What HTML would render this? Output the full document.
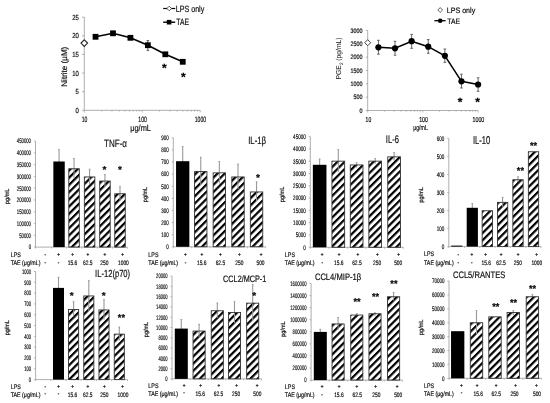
<!DOCTYPE html>
<html><head><meta charset="utf-8"><style>
html,body{margin:0;padding:0;background:#fff;width:550px;height:403px;overflow:hidden}
svg{display:block;filter:grayscale(1) blur(0.3px)}
text{font-family:"Liberation Sans", sans-serif;text-rendering:geometricPrecision}
</style></head><body>
<svg width="550" height="403" viewBox="0 0 550 403">
<defs>
<pattern id="hatch" patternUnits="userSpaceOnUse" width="5.1" height="5.1" patternTransform="rotate(45)">
<rect x="0" y="0" width="2.2" height="5.1" fill="#000"/>
</pattern>
</defs>
<rect width="550" height="403" fill="#fff"/>
<line x1="84.30" y1="17.20" x2="84.30" y2="110.30" stroke="#9a9a9a" stroke-width="0.8"/>
<line x1="82.10" y1="110.30" x2="84.30" y2="110.30" stroke="#9a9a9a" stroke-width="0.8"/>
<text x="78.80" y="112.90" font-size="7.4" text-anchor="end" fill="#111" textLength="3.30" lengthAdjust="spacingAndGlyphs" font-weight="normal"  stroke="#111" stroke-width="0.2">0</text>
<line x1="82.10" y1="91.68" x2="84.30" y2="91.68" stroke="#9a9a9a" stroke-width="0.8"/>
<text x="78.80" y="94.28" font-size="7.4" text-anchor="end" fill="#111" textLength="3.30" lengthAdjust="spacingAndGlyphs" font-weight="normal"  stroke="#111" stroke-width="0.2">5</text>
<line x1="82.10" y1="73.06" x2="84.30" y2="73.06" stroke="#9a9a9a" stroke-width="0.8"/>
<text x="78.80" y="75.66" font-size="7.4" text-anchor="end" fill="#111" textLength="6.60" lengthAdjust="spacingAndGlyphs" font-weight="normal"  stroke="#111" stroke-width="0.2">10</text>
<line x1="82.10" y1="54.44" x2="84.30" y2="54.44" stroke="#9a9a9a" stroke-width="0.8"/>
<text x="78.80" y="57.04" font-size="7.4" text-anchor="end" fill="#111" textLength="6.60" lengthAdjust="spacingAndGlyphs" font-weight="normal"  stroke="#111" stroke-width="0.2">15</text>
<line x1="82.10" y1="35.82" x2="84.30" y2="35.82" stroke="#9a9a9a" stroke-width="0.8"/>
<text x="78.80" y="38.42" font-size="7.4" text-anchor="end" fill="#111" textLength="6.60" lengthAdjust="spacingAndGlyphs" font-weight="normal"  stroke="#111" stroke-width="0.2">20</text>
<line x1="82.10" y1="17.20" x2="84.30" y2="17.20" stroke="#9a9a9a" stroke-width="0.8"/>
<text x="78.80" y="19.80" font-size="7.4" text-anchor="end" fill="#111" textLength="6.60" lengthAdjust="spacingAndGlyphs" font-weight="normal"  stroke="#111" stroke-width="0.2">25</text>
<line x1="84.30" y1="110.30" x2="200.20" y2="110.30" stroke="#9a9a9a" stroke-width="0.8"/>
<line x1="84.30" y1="110.30" x2="84.30" y2="112.50" stroke="#9a9a9a" stroke-width="0.7"/>
<line x1="101.74" y1="110.30" x2="101.74" y2="111.60" stroke="#9a9a9a" stroke-width="0.7"/>
<line x1="111.95" y1="110.30" x2="111.95" y2="111.60" stroke="#9a9a9a" stroke-width="0.7"/>
<line x1="119.19" y1="110.30" x2="119.19" y2="111.60" stroke="#9a9a9a" stroke-width="0.7"/>
<line x1="124.81" y1="110.30" x2="124.81" y2="111.60" stroke="#9a9a9a" stroke-width="0.7"/>
<line x1="129.39" y1="110.30" x2="129.39" y2="111.60" stroke="#9a9a9a" stroke-width="0.7"/>
<line x1="133.27" y1="110.30" x2="133.27" y2="111.60" stroke="#9a9a9a" stroke-width="0.7"/>
<line x1="136.63" y1="110.30" x2="136.63" y2="111.60" stroke="#9a9a9a" stroke-width="0.7"/>
<line x1="139.60" y1="110.30" x2="139.60" y2="111.60" stroke="#9a9a9a" stroke-width="0.7"/>
<line x1="142.25" y1="110.30" x2="142.25" y2="112.50" stroke="#9a9a9a" stroke-width="0.7"/>
<line x1="159.69" y1="110.30" x2="159.69" y2="111.60" stroke="#9a9a9a" stroke-width="0.7"/>
<line x1="169.90" y1="110.30" x2="169.90" y2="111.60" stroke="#9a9a9a" stroke-width="0.7"/>
<line x1="177.14" y1="110.30" x2="177.14" y2="111.60" stroke="#9a9a9a" stroke-width="0.7"/>
<line x1="182.76" y1="110.30" x2="182.76" y2="111.60" stroke="#9a9a9a" stroke-width="0.7"/>
<line x1="187.34" y1="110.30" x2="187.34" y2="111.60" stroke="#9a9a9a" stroke-width="0.7"/>
<line x1="191.22" y1="110.30" x2="191.22" y2="111.60" stroke="#9a9a9a" stroke-width="0.7"/>
<line x1="194.58" y1="110.30" x2="194.58" y2="111.60" stroke="#9a9a9a" stroke-width="0.7"/>
<line x1="197.55" y1="110.30" x2="197.55" y2="111.60" stroke="#9a9a9a" stroke-width="0.7"/>
<line x1="200.20" y1="110.30" x2="200.20" y2="112.50" stroke="#9a9a9a" stroke-width="0.7"/>
<text x="84.50" y="121.50" font-size="7.8" text-anchor="middle" fill="#111" textLength="5.60" lengthAdjust="spacingAndGlyphs" font-weight="normal"  stroke="#111" stroke-width="0.2">10</text>
<text x="142.60" y="121.50" font-size="7.8" text-anchor="middle" fill="#111" textLength="8.60" lengthAdjust="spacingAndGlyphs" font-weight="normal"  stroke="#111" stroke-width="0.2">100</text>
<text x="200.40" y="121.50" font-size="7.8" text-anchor="middle" fill="#111" textLength="11.20" lengthAdjust="spacingAndGlyphs" font-weight="normal"  stroke="#111" stroke-width="0.2">1000</text>
<text x="140.60" y="130.80" font-size="9" text-anchor="middle" fill="#111" textLength="20.70" lengthAdjust="spacingAndGlyphs" font-weight="normal"  stroke="#111" stroke-width="0.2">μg/mL</text>
<text x="66.60" y="66.70" font-size="8.2" text-anchor="middle" fill="#111" textLength="40.00" lengthAdjust="spacingAndGlyphs" transform="rotate(-90 66.60 66.70)" font-weight="normal"  stroke="#111" stroke-width="0.2">Nitrite (μM)</text>
<polyline points="95.53,36.80 112.98,33.30 130.42,37.80 147.87,45.20 165.31,54.30 182.76,61.80" fill="none" stroke="#000" stroke-width="1.6"/>
<line x1="147.87" y1="40.60" x2="147.87" y2="50.40" stroke="#444" stroke-width="0.9"/>
<line x1="146.67" y1="40.60" x2="149.07" y2="40.60" stroke="#444" stroke-width="0.9"/>
<line x1="146.67" y1="50.40" x2="149.07" y2="50.40" stroke="#444" stroke-width="0.9"/>
<rect x="92.63" y="33.90" width="5.80" height="5.80" fill="#000"/>
<rect x="110.08" y="30.40" width="5.80" height="5.80" fill="#000"/>
<rect x="127.52" y="34.90" width="5.80" height="5.80" fill="#000"/>
<rect x="144.97" y="42.30" width="5.80" height="5.80" fill="#000"/>
<rect x="162.41" y="51.40" width="5.80" height="5.80" fill="#000"/>
<rect x="179.86" y="58.90" width="5.80" height="5.80" fill="#000"/>
<polygon points="84.30,39.80 87.60,43.1 84.30,46.40 81.00,43.1" fill="#fff" stroke="#222" stroke-width="1.1"/>
<text x="164.30" y="72.32" font-size="12" text-anchor="middle" fill="#000" font-weight="bold"  stroke="#000" stroke-width="0.2">*</text>
<text x="183.40" y="81.32" font-size="12" text-anchor="middle" fill="#000" font-weight="bold"  stroke="#000" stroke-width="0.2">*</text>
<line x1="163.20" y1="8.50" x2="175.20" y2="8.50" stroke="#000" stroke-width="1.2"/>
<polygon points="169.2,6.2 171.5,8.5 169.2,10.8 166.89999999999998,8.5" fill="#fff" stroke="#333" stroke-width="0.8"/>
<text x="175.70" y="11.50" font-size="9.0" text-anchor="start" fill="#111" textLength="28.60" lengthAdjust="spacingAndGlyphs" font-weight="normal"  stroke="#111" stroke-width="0.2">LPS only</text>
<line x1="163.20" y1="22.20" x2="175.20" y2="22.20" stroke="#000" stroke-width="1.4"/>
<rect x="166.80" y="19.90" width="4.60" height="4.60" fill="#000"/>
<text x="176.30" y="24.50" font-size="9.0" text-anchor="start" fill="#111" textLength="12.70" lengthAdjust="spacingAndGlyphs" font-weight="normal"  stroke="#111" stroke-width="0.2">TAE</text>
<line x1="367.70" y1="30.50" x2="367.70" y2="110.50" stroke="#9a9a9a" stroke-width="0.8"/>
<line x1="365.90" y1="110.50" x2="367.70" y2="110.50" stroke="#9a9a9a" stroke-width="0.8"/>
<text x="362.40" y="112.70" font-size="6.4" text-anchor="end" fill="#111" textLength="3.00" lengthAdjust="spacingAndGlyphs" font-weight="normal"  stroke="#111" stroke-width="0.2">0</text>
<line x1="365.90" y1="97.17" x2="367.70" y2="97.17" stroke="#9a9a9a" stroke-width="0.8"/>
<text x="362.40" y="99.37" font-size="6.4" text-anchor="end" fill="#111" textLength="9.00" lengthAdjust="spacingAndGlyphs" font-weight="normal"  stroke="#111" stroke-width="0.2">500</text>
<line x1="365.90" y1="83.83" x2="367.70" y2="83.83" stroke="#9a9a9a" stroke-width="0.8"/>
<text x="362.40" y="86.03" font-size="6.4" text-anchor="end" fill="#111" textLength="12.00" lengthAdjust="spacingAndGlyphs" font-weight="normal"  stroke="#111" stroke-width="0.2">1000</text>
<line x1="365.90" y1="70.50" x2="367.70" y2="70.50" stroke="#9a9a9a" stroke-width="0.8"/>
<text x="362.40" y="72.70" font-size="6.4" text-anchor="end" fill="#111" textLength="12.00" lengthAdjust="spacingAndGlyphs" font-weight="normal"  stroke="#111" stroke-width="0.2">1500</text>
<line x1="365.90" y1="57.17" x2="367.70" y2="57.17" stroke="#9a9a9a" stroke-width="0.8"/>
<text x="362.40" y="59.37" font-size="6.4" text-anchor="end" fill="#111" textLength="12.00" lengthAdjust="spacingAndGlyphs" font-weight="normal"  stroke="#111" stroke-width="0.2">2000</text>
<line x1="365.90" y1="43.83" x2="367.70" y2="43.83" stroke="#9a9a9a" stroke-width="0.8"/>
<text x="362.40" y="46.03" font-size="6.4" text-anchor="end" fill="#111" textLength="12.00" lengthAdjust="spacingAndGlyphs" font-weight="normal"  stroke="#111" stroke-width="0.2">2500</text>
<line x1="365.90" y1="30.50" x2="367.70" y2="30.50" stroke="#9a9a9a" stroke-width="0.8"/>
<text x="362.40" y="32.70" font-size="6.4" text-anchor="end" fill="#111" textLength="12.00" lengthAdjust="spacingAndGlyphs" font-weight="normal"  stroke="#111" stroke-width="0.2">3000</text>
<line x1="367.70" y1="110.50" x2="478.10" y2="110.50" stroke="#9a9a9a" stroke-width="0.8"/>
<line x1="367.70" y1="110.50" x2="367.70" y2="112.50" stroke="#9a9a9a" stroke-width="0.7"/>
<line x1="384.32" y1="110.50" x2="384.32" y2="111.70" stroke="#9a9a9a" stroke-width="0.7"/>
<line x1="394.04" y1="110.50" x2="394.04" y2="111.70" stroke="#9a9a9a" stroke-width="0.7"/>
<line x1="400.93" y1="110.50" x2="400.93" y2="111.70" stroke="#9a9a9a" stroke-width="0.7"/>
<line x1="406.28" y1="110.50" x2="406.28" y2="111.70" stroke="#9a9a9a" stroke-width="0.7"/>
<line x1="410.65" y1="110.50" x2="410.65" y2="111.70" stroke="#9a9a9a" stroke-width="0.7"/>
<line x1="414.35" y1="110.50" x2="414.35" y2="111.70" stroke="#9a9a9a" stroke-width="0.7"/>
<line x1="417.55" y1="110.50" x2="417.55" y2="111.70" stroke="#9a9a9a" stroke-width="0.7"/>
<line x1="420.37" y1="110.50" x2="420.37" y2="111.70" stroke="#9a9a9a" stroke-width="0.7"/>
<line x1="422.90" y1="110.50" x2="422.90" y2="112.50" stroke="#9a9a9a" stroke-width="0.7"/>
<line x1="439.52" y1="110.50" x2="439.52" y2="111.70" stroke="#9a9a9a" stroke-width="0.7"/>
<line x1="449.24" y1="110.50" x2="449.24" y2="111.70" stroke="#9a9a9a" stroke-width="0.7"/>
<line x1="456.13" y1="110.50" x2="456.13" y2="111.70" stroke="#9a9a9a" stroke-width="0.7"/>
<line x1="461.48" y1="110.50" x2="461.48" y2="111.70" stroke="#9a9a9a" stroke-width="0.7"/>
<line x1="465.85" y1="110.50" x2="465.85" y2="111.70" stroke="#9a9a9a" stroke-width="0.7"/>
<line x1="469.55" y1="110.50" x2="469.55" y2="111.70" stroke="#9a9a9a" stroke-width="0.7"/>
<line x1="472.75" y1="110.50" x2="472.75" y2="111.70" stroke="#9a9a9a" stroke-width="0.7"/>
<line x1="475.57" y1="110.50" x2="475.57" y2="111.70" stroke="#9a9a9a" stroke-width="0.7"/>
<line x1="478.10" y1="110.50" x2="478.10" y2="112.50" stroke="#9a9a9a" stroke-width="0.7"/>
<text x="368.40" y="121.60" font-size="7.2" text-anchor="middle" fill="#111" textLength="5.60" lengthAdjust="spacingAndGlyphs" font-weight="normal"  stroke="#111" stroke-width="0.2">10</text>
<text x="423.60" y="121.60" font-size="7.2" text-anchor="middle" fill="#111" textLength="8.90" lengthAdjust="spacingAndGlyphs" font-weight="normal"  stroke="#111" stroke-width="0.2">100</text>
<text x="478.40" y="121.60" font-size="7.2" text-anchor="middle" fill="#111" textLength="11.80" lengthAdjust="spacingAndGlyphs" font-weight="normal"  stroke="#111" stroke-width="0.2">1000</text>
<text x="420.50" y="130.00" font-size="7.2" text-anchor="middle" fill="#111" textLength="14.60" lengthAdjust="spacingAndGlyphs" font-weight="normal"  stroke="#111" stroke-width="0.2">μg/mL</text>
<text x="341.5" y="58.4" font-size="7.2" text-anchor="middle" fill="#111" transform="rotate(-90 341.5 58.4)" textLength="42" lengthAdjust="spacingAndGlyphs">PGE<tspan font-size="4.8" dy="1.5">2</tspan><tspan dy="-1.5"> (pg/mL)</tspan></text>
<line x1="378.40" y1="40.30" x2="378.40" y2="54.20" stroke="#555" stroke-width="0.9"/>
<line x1="377.10" y1="40.30" x2="379.70" y2="40.30" stroke="#555" stroke-width="0.9"/>
<line x1="377.10" y1="54.20" x2="379.70" y2="54.20" stroke="#555" stroke-width="0.9"/>
<line x1="395.02" y1="41.30" x2="395.02" y2="55.20" stroke="#555" stroke-width="0.9"/>
<line x1="393.72" y1="41.30" x2="396.32" y2="41.30" stroke="#555" stroke-width="0.9"/>
<line x1="393.72" y1="55.20" x2="396.32" y2="55.20" stroke="#555" stroke-width="0.9"/>
<line x1="411.63" y1="34.40" x2="411.63" y2="48.30" stroke="#555" stroke-width="0.9"/>
<line x1="410.33" y1="34.40" x2="412.93" y2="34.40" stroke="#555" stroke-width="0.9"/>
<line x1="410.33" y1="48.30" x2="412.93" y2="48.30" stroke="#555" stroke-width="0.9"/>
<line x1="428.25" y1="39.60" x2="428.25" y2="53.30" stroke="#555" stroke-width="0.9"/>
<line x1="426.95" y1="39.60" x2="429.55" y2="39.60" stroke="#555" stroke-width="0.9"/>
<line x1="426.95" y1="53.30" x2="429.55" y2="53.30" stroke="#555" stroke-width="0.9"/>
<line x1="444.87" y1="49.00" x2="444.87" y2="62.40" stroke="#555" stroke-width="0.9"/>
<line x1="443.57" y1="49.00" x2="446.17" y2="49.00" stroke="#555" stroke-width="0.9"/>
<line x1="443.57" y1="62.40" x2="446.17" y2="62.40" stroke="#555" stroke-width="0.9"/>
<line x1="461.48" y1="74.20" x2="461.48" y2="88.00" stroke="#555" stroke-width="0.9"/>
<line x1="460.18" y1="74.20" x2="462.78" y2="74.20" stroke="#555" stroke-width="0.9"/>
<line x1="460.18" y1="88.00" x2="462.78" y2="88.00" stroke="#555" stroke-width="0.9"/>
<line x1="478.10" y1="77.80" x2="478.10" y2="91.30" stroke="#555" stroke-width="0.9"/>
<line x1="476.80" y1="77.80" x2="479.40" y2="77.80" stroke="#555" stroke-width="0.9"/>
<line x1="476.80" y1="91.30" x2="479.40" y2="91.30" stroke="#555" stroke-width="0.9"/>
<polyline points="378.40,47.30 395.02,48.30 411.63,41.20 428.25,46.70 444.87,55.80 461.48,81.30 478.10,84.50" fill="none" stroke="#000" stroke-width="1.5"/>
<circle cx="378.40" cy="47.30" r="3.1" fill="#000"/>
<circle cx="395.02" cy="48.30" r="3.1" fill="#000"/>
<circle cx="411.63" cy="41.20" r="3.1" fill="#000"/>
<circle cx="428.25" cy="46.70" r="3.1" fill="#000"/>
<circle cx="444.87" cy="55.80" r="3.1" fill="#000"/>
<circle cx="461.48" cy="81.30" r="3.1" fill="#000"/>
<circle cx="478.10" cy="84.50" r="3.1" fill="#000"/>
<polygon points="367.70,39.70 370.70,42.7 367.70,45.70 364.70,42.7" fill="#fff" stroke="#333" stroke-width="0.9"/>
<text x="460.00" y="106.12" font-size="12" text-anchor="middle" fill="#000" font-weight="bold"  stroke="#000" stroke-width="0.2">*</text>
<text x="477.50" y="106.12" font-size="12" text-anchor="middle" fill="#000" font-weight="bold"  stroke="#000" stroke-width="0.2">*</text>
<polygon points="440.2,7.6 442.59999999999997,10 440.2,12.4 437.8,10" fill="#fff" stroke="#333" stroke-width="0.8"/>
<text x="446.80" y="12.80" font-size="7.8" text-anchor="start" fill="#111" textLength="28.40" lengthAdjust="spacingAndGlyphs" font-weight="normal"  stroke="#111" stroke-width="0.2">LPS only</text>
<line x1="434.40" y1="20.70" x2="445.60" y2="20.70" stroke="#000" stroke-width="1.3"/>
<circle cx="440.2" cy="20.7" r="2.3" fill="#000"/>
<text x="447.30" y="23.50" font-size="7.8" text-anchor="start" fill="#111" textLength="12.70" lengthAdjust="spacingAndGlyphs" font-weight="normal"  stroke="#111" stroke-width="0.2">TAE</text>
<line x1="35.50" y1="141.10" x2="35.50" y2="247.10" stroke="#9a9a9a" stroke-width="0.8"/>
<line x1="35.50" y1="247.10" x2="127.30" y2="247.10" stroke="#9a9a9a" stroke-width="0.8"/>
<line x1="33.90" y1="247.10" x2="35.50" y2="247.10" stroke="#9a9a9a" stroke-width="0.7"/>
<text x="31.00" y="249.40" font-size="6.6" text-anchor="end" fill="#111" textLength="2.37" lengthAdjust="spacingAndGlyphs" font-weight="normal"  stroke="#111" stroke-width="0.2">0</text>
<line x1="33.90" y1="235.32" x2="35.50" y2="235.32" stroke="#9a9a9a" stroke-width="0.7"/>
<text x="31.00" y="237.62" font-size="6.6" text-anchor="end" fill="#111" textLength="11.85" lengthAdjust="spacingAndGlyphs" font-weight="normal"  stroke="#111" stroke-width="0.2">50000</text>
<line x1="33.90" y1="223.54" x2="35.50" y2="223.54" stroke="#9a9a9a" stroke-width="0.7"/>
<text x="31.00" y="225.84" font-size="6.6" text-anchor="end" fill="#111" textLength="14.22" lengthAdjust="spacingAndGlyphs" font-weight="normal"  stroke="#111" stroke-width="0.2">100000</text>
<line x1="33.90" y1="211.77" x2="35.50" y2="211.77" stroke="#9a9a9a" stroke-width="0.7"/>
<text x="31.00" y="214.07" font-size="6.6" text-anchor="end" fill="#111" textLength="14.22" lengthAdjust="spacingAndGlyphs" font-weight="normal"  stroke="#111" stroke-width="0.2">150000</text>
<line x1="33.90" y1="199.99" x2="35.50" y2="199.99" stroke="#9a9a9a" stroke-width="0.7"/>
<text x="31.00" y="202.29" font-size="6.6" text-anchor="end" fill="#111" textLength="14.22" lengthAdjust="spacingAndGlyphs" font-weight="normal"  stroke="#111" stroke-width="0.2">200000</text>
<line x1="33.90" y1="188.21" x2="35.50" y2="188.21" stroke="#9a9a9a" stroke-width="0.7"/>
<text x="31.00" y="190.51" font-size="6.6" text-anchor="end" fill="#111" textLength="14.22" lengthAdjust="spacingAndGlyphs" font-weight="normal"  stroke="#111" stroke-width="0.2">250000</text>
<line x1="33.90" y1="176.43" x2="35.50" y2="176.43" stroke="#9a9a9a" stroke-width="0.7"/>
<text x="31.00" y="178.73" font-size="6.6" text-anchor="end" fill="#111" textLength="14.22" lengthAdjust="spacingAndGlyphs" font-weight="normal"  stroke="#111" stroke-width="0.2">300000</text>
<line x1="33.90" y1="164.66" x2="35.50" y2="164.66" stroke="#9a9a9a" stroke-width="0.7"/>
<text x="31.00" y="166.96" font-size="6.6" text-anchor="end" fill="#111" textLength="14.22" lengthAdjust="spacingAndGlyphs" font-weight="normal"  stroke="#111" stroke-width="0.2">350000</text>
<line x1="33.90" y1="152.88" x2="35.50" y2="152.88" stroke="#9a9a9a" stroke-width="0.7"/>
<text x="31.00" y="155.18" font-size="6.6" text-anchor="end" fill="#111" textLength="14.22" lengthAdjust="spacingAndGlyphs" font-weight="normal"  stroke="#111" stroke-width="0.2">400000</text>
<line x1="33.90" y1="141.10" x2="35.50" y2="141.10" stroke="#9a9a9a" stroke-width="0.7"/>
<text x="31.00" y="143.40" font-size="6.6" text-anchor="end" fill="#111" textLength="14.22" lengthAdjust="spacingAndGlyphs" font-weight="normal"  stroke="#111" stroke-width="0.2">450000</text>
<line x1="35.50" y1="247.10" x2="35.50" y2="248.60" stroke="#9a9a9a" stroke-width="0.7"/>
<line x1="51.52" y1="247.10" x2="51.52" y2="248.60" stroke="#9a9a9a" stroke-width="0.7"/>
<line x1="66.55" y1="247.10" x2="66.55" y2="248.60" stroke="#9a9a9a" stroke-width="0.7"/>
<line x1="81.82" y1="247.10" x2="81.82" y2="248.60" stroke="#9a9a9a" stroke-width="0.7"/>
<line x1="97.28" y1="247.10" x2="97.28" y2="248.60" stroke="#9a9a9a" stroke-width="0.7"/>
<line x1="112.47" y1="247.10" x2="112.47" y2="248.60" stroke="#9a9a9a" stroke-width="0.7"/>
<line x1="127.30" y1="247.10" x2="127.30" y2="248.60" stroke="#9a9a9a" stroke-width="0.7"/>
<line x1="59.05" y1="149.30" x2="59.05" y2="164.50" stroke="#999" stroke-width="1.1"/>
<line x1="58.15" y1="149.60" x2="59.95" y2="149.60" stroke="#999" stroke-width="0.8"/>
<rect x="53.35" y="161.50" width="11.40" height="85.60" fill="#000"/>
<line x1="74.05" y1="158.20" x2="74.05" y2="171.30" stroke="#999" stroke-width="1.1"/>
<line x1="73.15" y1="158.50" x2="74.95" y2="158.50" stroke="#999" stroke-width="0.8"/>
<rect x="68.80" y="168.75" width="10.50" height="78.35" fill="url(#hatch)" stroke="#333" stroke-width="0.9"/>
<line x1="74.05" y1="169.30" x2="74.05" y2="178.40" stroke="#999" stroke-width="1.0"/>
<line x1="89.60" y1="168.90" x2="89.60" y2="179.50" stroke="#999" stroke-width="1.1"/>
<line x1="88.70" y1="169.20" x2="90.50" y2="169.20" stroke="#999" stroke-width="0.8"/>
<rect x="84.35" y="176.95" width="10.50" height="70.15" fill="url(#hatch)" stroke="#333" stroke-width="0.9"/>
<line x1="89.60" y1="177.50" x2="89.60" y2="184.10" stroke="#999" stroke-width="1.0"/>
<line x1="104.95" y1="174.20" x2="104.95" y2="183.60" stroke="#999" stroke-width="1.1"/>
<line x1="104.05" y1="174.50" x2="105.85" y2="174.50" stroke="#999" stroke-width="0.8"/>
<rect x="99.70" y="181.05" width="10.50" height="66.05" fill="url(#hatch)" stroke="#333" stroke-width="0.9"/>
<line x1="104.95" y1="181.60" x2="104.95" y2="187.00" stroke="#999" stroke-width="1.0"/>
<line x1="120.00" y1="186.20" x2="120.00" y2="196.30" stroke="#999" stroke-width="1.1"/>
<line x1="119.10" y1="186.50" x2="120.90" y2="186.50" stroke="#999" stroke-width="0.8"/>
<rect x="114.75" y="193.75" width="10.50" height="53.35" fill="url(#hatch)" stroke="#333" stroke-width="0.9"/>
<line x1="120.00" y1="194.30" x2="120.00" y2="200.40" stroke="#999" stroke-width="1.0"/>
<text x="104.50" y="172.70" font-size="10" text-anchor="middle" fill="#000" font-weight="bold"  stroke="#000" stroke-width="0.2">*</text>
<text x="120.00" y="172.70" font-size="10" text-anchor="middle" fill="#000" font-weight="bold"  stroke="#000" stroke-width="0.2">*</text>
<text x="104.10" y="146.80" font-size="10.5" text-anchor="start" fill="#111" textLength="22.90" lengthAdjust="spacingAndGlyphs" font-weight="normal"  stroke="#111" stroke-width="0.2">TNF-α</text>
<text x="8.90" y="196.30" font-size="6.0" text-anchor="middle" fill="#111" textLength="15.30" lengthAdjust="spacingAndGlyphs" transform="rotate(-90 8.90 196.30)" font-weight="normal"  stroke="#111" stroke-width="0.2">pg/mL</text>
<text x="10.70" y="256.60" font-size="6.6" text-anchor="start" fill="#111" textLength="10.20" lengthAdjust="spacingAndGlyphs" font-weight="normal"  stroke="#111" stroke-width="0.2">LPS</text>
<text x="10.70" y="264.80" font-size="6.6" text-anchor="start" fill="#111" textLength="29.80" lengthAdjust="spacingAndGlyphs" font-weight="normal"  stroke="#111" stroke-width="0.2">TAE (μg/mL)</text>
<text x="45.30" y="256.00" font-size="4.6" text-anchor="middle" fill="#111" font-weight="bold"  stroke="#111" stroke-width="0.2">-</text>
<text x="58.50" y="256.00" font-size="4.6" text-anchor="middle" fill="#111" font-weight="bold"  stroke="#111" stroke-width="0.2">+</text>
<text x="72.50" y="256.00" font-size="4.6" text-anchor="middle" fill="#111" font-weight="bold"  stroke="#111" stroke-width="0.2">+</text>
<text x="87.80" y="256.00" font-size="4.6" text-anchor="middle" fill="#111" font-weight="bold"  stroke="#111" stroke-width="0.2">+</text>
<text x="104.80" y="256.00" font-size="4.6" text-anchor="middle" fill="#111" font-weight="bold"  stroke="#111" stroke-width="0.2">+</text>
<text x="122.60" y="256.00" font-size="4.6" text-anchor="middle" fill="#111" font-weight="bold"  stroke="#111" stroke-width="0.2">+</text>
<text x="45.30" y="263.60" font-size="4.6" text-anchor="middle" fill="#111" font-weight="bold"  stroke="#111" stroke-width="0.2">-</text>
<text x="58.50" y="263.60" font-size="4.6" text-anchor="middle" fill="#111" font-weight="bold"  stroke="#111" stroke-width="0.2">-</text>
<text x="72.50" y="264.80" font-size="6.4" text-anchor="middle" fill="#111" textLength="9.50" lengthAdjust="spacingAndGlyphs" font-weight="normal"  stroke="#111" stroke-width="0.2">15.6</text>
<text x="87.80" y="264.80" font-size="6.4" text-anchor="middle" fill="#111" textLength="9.50" lengthAdjust="spacingAndGlyphs" font-weight="normal"  stroke="#111" stroke-width="0.2">62.5</text>
<text x="104.30" y="264.80" font-size="6.4" text-anchor="middle" fill="#111" textLength="8.10" lengthAdjust="spacingAndGlyphs" font-weight="normal"  stroke="#111" stroke-width="0.2">250</text>
<text x="123.40" y="264.80" font-size="6.4" text-anchor="middle" fill="#111" textLength="10.80" lengthAdjust="spacingAndGlyphs" font-weight="normal"  stroke="#111" stroke-width="0.2">1000</text>
<line x1="173.30" y1="137.80" x2="173.30" y2="246.80" stroke="#9a9a9a" stroke-width="0.8"/>
<line x1="173.30" y1="246.80" x2="265.60" y2="246.80" stroke="#9a9a9a" stroke-width="0.8"/>
<line x1="171.70" y1="246.80" x2="173.30" y2="246.80" stroke="#9a9a9a" stroke-width="0.7"/>
<text x="168.80" y="249.10" font-size="6.6" text-anchor="end" fill="#111" textLength="2.50" lengthAdjust="spacingAndGlyphs" font-weight="normal"  stroke="#111" stroke-width="0.2">0</text>
<line x1="171.70" y1="234.69" x2="173.30" y2="234.69" stroke="#9a9a9a" stroke-width="0.7"/>
<text x="168.80" y="236.99" font-size="6.6" text-anchor="end" fill="#111" textLength="7.50" lengthAdjust="spacingAndGlyphs" font-weight="normal"  stroke="#111" stroke-width="0.2">100</text>
<line x1="171.70" y1="222.58" x2="173.30" y2="222.58" stroke="#9a9a9a" stroke-width="0.7"/>
<text x="168.80" y="224.88" font-size="6.6" text-anchor="end" fill="#111" textLength="7.50" lengthAdjust="spacingAndGlyphs" font-weight="normal"  stroke="#111" stroke-width="0.2">200</text>
<line x1="171.70" y1="210.47" x2="173.30" y2="210.47" stroke="#9a9a9a" stroke-width="0.7"/>
<text x="168.80" y="212.77" font-size="6.6" text-anchor="end" fill="#111" textLength="7.50" lengthAdjust="spacingAndGlyphs" font-weight="normal"  stroke="#111" stroke-width="0.2">300</text>
<line x1="171.70" y1="198.36" x2="173.30" y2="198.36" stroke="#9a9a9a" stroke-width="0.7"/>
<text x="168.80" y="200.66" font-size="6.6" text-anchor="end" fill="#111" textLength="7.50" lengthAdjust="spacingAndGlyphs" font-weight="normal"  stroke="#111" stroke-width="0.2">400</text>
<line x1="171.70" y1="186.24" x2="173.30" y2="186.24" stroke="#9a9a9a" stroke-width="0.7"/>
<text x="168.80" y="188.54" font-size="6.6" text-anchor="end" fill="#111" textLength="7.50" lengthAdjust="spacingAndGlyphs" font-weight="normal"  stroke="#111" stroke-width="0.2">500</text>
<line x1="171.70" y1="174.13" x2="173.30" y2="174.13" stroke="#9a9a9a" stroke-width="0.7"/>
<text x="168.80" y="176.43" font-size="6.6" text-anchor="end" fill="#111" textLength="7.50" lengthAdjust="spacingAndGlyphs" font-weight="normal"  stroke="#111" stroke-width="0.2">600</text>
<line x1="171.70" y1="162.02" x2="173.30" y2="162.02" stroke="#9a9a9a" stroke-width="0.7"/>
<text x="168.80" y="164.32" font-size="6.6" text-anchor="end" fill="#111" textLength="7.50" lengthAdjust="spacingAndGlyphs" font-weight="normal"  stroke="#111" stroke-width="0.2">700</text>
<line x1="171.70" y1="149.91" x2="173.30" y2="149.91" stroke="#9a9a9a" stroke-width="0.7"/>
<text x="168.80" y="152.21" font-size="6.6" text-anchor="end" fill="#111" textLength="7.50" lengthAdjust="spacingAndGlyphs" font-weight="normal"  stroke="#111" stroke-width="0.2">800</text>
<line x1="171.70" y1="137.80" x2="173.30" y2="137.80" stroke="#9a9a9a" stroke-width="0.7"/>
<text x="168.80" y="140.10" font-size="6.6" text-anchor="end" fill="#111" textLength="7.50" lengthAdjust="spacingAndGlyphs" font-weight="normal"  stroke="#111" stroke-width="0.2">900</text>
<line x1="173.30" y1="246.80" x2="173.30" y2="248.30" stroke="#9a9a9a" stroke-width="0.7"/>
<line x1="191.72" y1="246.80" x2="191.72" y2="248.30" stroke="#9a9a9a" stroke-width="0.7"/>
<line x1="210.05" y1="246.80" x2="210.05" y2="248.30" stroke="#9a9a9a" stroke-width="0.7"/>
<line x1="228.68" y1="246.80" x2="228.68" y2="248.30" stroke="#9a9a9a" stroke-width="0.7"/>
<line x1="247.28" y1="246.80" x2="247.28" y2="248.30" stroke="#9a9a9a" stroke-width="0.7"/>
<line x1="265.60" y1="246.80" x2="265.60" y2="248.30" stroke="#9a9a9a" stroke-width="0.7"/>
<line x1="182.70" y1="146.20" x2="182.70" y2="164.20" stroke="#999" stroke-width="1.1"/>
<line x1="181.80" y1="146.50" x2="183.60" y2="146.50" stroke="#999" stroke-width="0.8"/>
<rect x="176.05" y="161.20" width="13.30" height="85.60" fill="#000"/>
<line x1="200.75" y1="156.90" x2="200.75" y2="174.10" stroke="#999" stroke-width="1.1"/>
<line x1="199.85" y1="157.20" x2="201.65" y2="157.20" stroke="#999" stroke-width="0.8"/>
<rect x="194.55" y="171.55" width="12.40" height="75.25" fill="url(#hatch)" stroke="#333" stroke-width="0.9"/>
<line x1="200.75" y1="172.10" x2="200.75" y2="185.30" stroke="#999" stroke-width="1.0"/>
<line x1="219.35" y1="161.20" x2="219.35" y2="175.40" stroke="#999" stroke-width="1.1"/>
<line x1="218.45" y1="161.50" x2="220.25" y2="161.50" stroke="#999" stroke-width="0.8"/>
<rect x="213.15" y="172.85" width="12.40" height="73.95" fill="url(#hatch)" stroke="#333" stroke-width="0.9"/>
<line x1="219.35" y1="173.40" x2="219.35" y2="183.60" stroke="#999" stroke-width="1.0"/>
<line x1="238.00" y1="163.80" x2="238.00" y2="179.50" stroke="#999" stroke-width="1.1"/>
<line x1="237.10" y1="164.10" x2="238.90" y2="164.10" stroke="#999" stroke-width="0.8"/>
<rect x="231.80" y="176.95" width="12.40" height="69.85" fill="url(#hatch)" stroke="#333" stroke-width="0.9"/>
<line x1="238.00" y1="177.50" x2="238.00" y2="189.20" stroke="#999" stroke-width="1.0"/>
<line x1="256.55" y1="181.60" x2="256.55" y2="194.50" stroke="#999" stroke-width="1.1"/>
<line x1="255.65" y1="181.90" x2="257.45" y2="181.90" stroke="#999" stroke-width="0.8"/>
<rect x="250.35" y="191.95" width="12.40" height="54.85" fill="url(#hatch)" stroke="#333" stroke-width="0.9"/>
<line x1="256.55" y1="192.50" x2="256.55" y2="201.40" stroke="#999" stroke-width="1.0"/>
<text x="257.90" y="180.80" font-size="10" text-anchor="middle" fill="#000" font-weight="bold"  stroke="#000" stroke-width="0.2">*</text>
<text x="248.20" y="143.80" font-size="10.5" text-anchor="start" fill="#111" textLength="17.80" lengthAdjust="spacingAndGlyphs" font-weight="normal"  stroke="#111" stroke-width="0.2">IL-1β</text>
<text x="146.60" y="194.50" font-size="6.0" text-anchor="middle" fill="#111" textLength="15.30" lengthAdjust="spacingAndGlyphs" transform="rotate(-90 146.60 194.50)" font-weight="normal"  stroke="#111" stroke-width="0.2">pg/mL</text>
<text x="148.30" y="256.60" font-size="6.6" text-anchor="start" fill="#111" textLength="10.20" lengthAdjust="spacingAndGlyphs" font-weight="normal"  stroke="#111" stroke-width="0.2">LPS</text>
<text x="148.30" y="264.80" font-size="6.6" text-anchor="start" fill="#111" textLength="29.80" lengthAdjust="spacingAndGlyphs" font-weight="normal"  stroke="#111" stroke-width="0.2">TAE (μg/mL)</text>
<text x="185.40" y="256.00" font-size="4.6" text-anchor="middle" fill="#111" font-weight="bold"  stroke="#111" stroke-width="0.2">+</text>
<text x="201.90" y="256.00" font-size="4.6" text-anchor="middle" fill="#111" font-weight="bold"  stroke="#111" stroke-width="0.2">+</text>
<text x="220.40" y="256.00" font-size="4.6" text-anchor="middle" fill="#111" font-weight="bold"  stroke="#111" stroke-width="0.2">+</text>
<text x="239.30" y="256.00" font-size="4.6" text-anchor="middle" fill="#111" font-weight="bold"  stroke="#111" stroke-width="0.2">+</text>
<text x="261.00" y="256.00" font-size="4.6" text-anchor="middle" fill="#111" font-weight="bold"  stroke="#111" stroke-width="0.2">+</text>
<text x="185.40" y="263.60" font-size="4.6" text-anchor="middle" fill="#111" font-weight="bold"  stroke="#111" stroke-width="0.2">-</text>
<text x="201.70" y="264.80" font-size="6.4" text-anchor="middle" fill="#111" textLength="9.50" lengthAdjust="spacingAndGlyphs" font-weight="normal"  stroke="#111" stroke-width="0.2">15.6</text>
<text x="220.40" y="264.80" font-size="6.4" text-anchor="middle" fill="#111" textLength="9.50" lengthAdjust="spacingAndGlyphs" font-weight="normal"  stroke="#111" stroke-width="0.2">62.5</text>
<text x="239.30" y="264.80" font-size="6.4" text-anchor="middle" fill="#111" textLength="8.10" lengthAdjust="spacingAndGlyphs" font-weight="normal"  stroke="#111" stroke-width="0.2">250</text>
<text x="260.50" y="264.80" font-size="6.4" text-anchor="middle" fill="#111" textLength="8.10" lengthAdjust="spacingAndGlyphs" font-weight="normal"  stroke="#111" stroke-width="0.2">500</text>
<line x1="310.30" y1="136.60" x2="310.30" y2="247.30" stroke="#9a9a9a" stroke-width="0.8"/>
<line x1="310.30" y1="247.30" x2="403.40" y2="247.30" stroke="#9a9a9a" stroke-width="0.8"/>
<line x1="308.70" y1="247.30" x2="310.30" y2="247.30" stroke="#9a9a9a" stroke-width="0.7"/>
<text x="305.80" y="249.60" font-size="6.6" text-anchor="end" fill="#111" textLength="2.54" lengthAdjust="spacingAndGlyphs" font-weight="normal"  stroke="#111" stroke-width="0.2">0</text>
<line x1="308.70" y1="235.00" x2="310.30" y2="235.00" stroke="#9a9a9a" stroke-width="0.7"/>
<text x="305.80" y="237.30" font-size="6.6" text-anchor="end" fill="#111" textLength="10.16" lengthAdjust="spacingAndGlyphs" font-weight="normal"  stroke="#111" stroke-width="0.2">5000</text>
<line x1="308.70" y1="222.70" x2="310.30" y2="222.70" stroke="#9a9a9a" stroke-width="0.7"/>
<text x="305.80" y="225.00" font-size="6.6" text-anchor="end" fill="#111" textLength="12.70" lengthAdjust="spacingAndGlyphs" font-weight="normal"  stroke="#111" stroke-width="0.2">10000</text>
<line x1="308.70" y1="210.40" x2="310.30" y2="210.40" stroke="#9a9a9a" stroke-width="0.7"/>
<text x="305.80" y="212.70" font-size="6.6" text-anchor="end" fill="#111" textLength="12.70" lengthAdjust="spacingAndGlyphs" font-weight="normal"  stroke="#111" stroke-width="0.2">15000</text>
<line x1="308.70" y1="198.10" x2="310.30" y2="198.10" stroke="#9a9a9a" stroke-width="0.7"/>
<text x="305.80" y="200.40" font-size="6.6" text-anchor="end" fill="#111" textLength="12.70" lengthAdjust="spacingAndGlyphs" font-weight="normal"  stroke="#111" stroke-width="0.2">20000</text>
<line x1="308.70" y1="185.80" x2="310.30" y2="185.80" stroke="#9a9a9a" stroke-width="0.7"/>
<text x="305.80" y="188.10" font-size="6.6" text-anchor="end" fill="#111" textLength="12.70" lengthAdjust="spacingAndGlyphs" font-weight="normal"  stroke="#111" stroke-width="0.2">25000</text>
<line x1="308.70" y1="173.50" x2="310.30" y2="173.50" stroke="#9a9a9a" stroke-width="0.7"/>
<text x="305.80" y="175.80" font-size="6.6" text-anchor="end" fill="#111" textLength="12.70" lengthAdjust="spacingAndGlyphs" font-weight="normal"  stroke="#111" stroke-width="0.2">30000</text>
<line x1="308.70" y1="161.20" x2="310.30" y2="161.20" stroke="#9a9a9a" stroke-width="0.7"/>
<text x="305.80" y="163.50" font-size="6.6" text-anchor="end" fill="#111" textLength="12.70" lengthAdjust="spacingAndGlyphs" font-weight="normal"  stroke="#111" stroke-width="0.2">35000</text>
<line x1="308.70" y1="148.90" x2="310.30" y2="148.90" stroke="#9a9a9a" stroke-width="0.7"/>
<text x="305.80" y="151.20" font-size="6.6" text-anchor="end" fill="#111" textLength="12.70" lengthAdjust="spacingAndGlyphs" font-weight="normal"  stroke="#111" stroke-width="0.2">40000</text>
<line x1="308.70" y1="136.60" x2="310.30" y2="136.60" stroke="#9a9a9a" stroke-width="0.7"/>
<text x="305.80" y="138.90" font-size="6.6" text-anchor="end" fill="#111" textLength="12.70" lengthAdjust="spacingAndGlyphs" font-weight="normal"  stroke="#111" stroke-width="0.2">45000</text>
<line x1="310.30" y1="247.30" x2="310.30" y2="248.80" stroke="#9a9a9a" stroke-width="0.7"/>
<line x1="328.98" y1="247.30" x2="328.98" y2="248.80" stroke="#9a9a9a" stroke-width="0.7"/>
<line x1="347.48" y1="247.30" x2="347.48" y2="248.80" stroke="#9a9a9a" stroke-width="0.7"/>
<line x1="365.92" y1="247.30" x2="365.92" y2="248.80" stroke="#9a9a9a" stroke-width="0.7"/>
<line x1="384.65" y1="247.30" x2="384.65" y2="248.80" stroke="#9a9a9a" stroke-width="0.7"/>
<line x1="403.40" y1="247.30" x2="403.40" y2="248.80" stroke="#9a9a9a" stroke-width="0.7"/>
<line x1="319.65" y1="158.70" x2="319.65" y2="167.80" stroke="#999" stroke-width="1.1"/>
<line x1="318.75" y1="159.00" x2="320.55" y2="159.00" stroke="#999" stroke-width="0.8"/>
<rect x="312.85" y="164.80" width="13.60" height="82.50" fill="#000"/>
<line x1="338.30" y1="149.30" x2="338.30" y2="163.70" stroke="#999" stroke-width="1.1"/>
<line x1="337.40" y1="149.60" x2="339.20" y2="149.60" stroke="#999" stroke-width="0.8"/>
<rect x="331.95" y="161.15" width="12.70" height="86.15" fill="url(#hatch)" stroke="#333" stroke-width="0.9"/>
<line x1="338.30" y1="161.70" x2="338.30" y2="172.10" stroke="#999" stroke-width="1.0"/>
<line x1="356.65" y1="162.50" x2="356.65" y2="167.50" stroke="#999" stroke-width="1.1"/>
<line x1="355.75" y1="162.80" x2="357.55" y2="162.80" stroke="#999" stroke-width="0.8"/>
<rect x="350.30" y="164.95" width="12.70" height="82.35" fill="url(#hatch)" stroke="#333" stroke-width="0.9"/>
<line x1="375.20" y1="158.20" x2="375.20" y2="163.70" stroke="#999" stroke-width="1.1"/>
<line x1="374.30" y1="158.50" x2="376.10" y2="158.50" stroke="#999" stroke-width="0.8"/>
<rect x="368.85" y="161.15" width="12.70" height="86.15" fill="url(#hatch)" stroke="#333" stroke-width="0.9"/>
<line x1="394.10" y1="152.30" x2="394.10" y2="159.40" stroke="#999" stroke-width="1.1"/>
<line x1="393.20" y1="152.60" x2="395.00" y2="152.60" stroke="#999" stroke-width="0.8"/>
<rect x="387.75" y="156.85" width="12.70" height="90.45" fill="url(#hatch)" stroke="#333" stroke-width="0.9"/>
<line x1="394.10" y1="157.40" x2="394.10" y2="160.50" stroke="#999" stroke-width="1.0"/>
<text x="385.80" y="142.80" font-size="11.025" text-anchor="start" fill="#111" textLength="13.10" lengthAdjust="spacingAndGlyphs" font-weight="normal"  stroke="#111" stroke-width="0.2">IL-6</text>
<text x="284.50" y="194.40" font-size="6.0" text-anchor="middle" fill="#111" textLength="15.30" lengthAdjust="spacingAndGlyphs" transform="rotate(-90 284.50 194.40)" font-weight="normal"  stroke="#111" stroke-width="0.2">pg/mL</text>
<text x="284.80" y="256.60" font-size="6.6" text-anchor="start" fill="#111" textLength="10.20" lengthAdjust="spacingAndGlyphs" font-weight="normal"  stroke="#111" stroke-width="0.2">LPS</text>
<text x="284.80" y="264.80" font-size="6.6" text-anchor="start" fill="#111" textLength="29.80" lengthAdjust="spacingAndGlyphs" font-weight="normal"  stroke="#111" stroke-width="0.2">TAE (μg/mL)</text>
<text x="322.20" y="256.00" font-size="4.6" text-anchor="middle" fill="#111" font-weight="bold"  stroke="#111" stroke-width="0.2">+</text>
<text x="339.20" y="256.00" font-size="4.6" text-anchor="middle" fill="#111" font-weight="bold"  stroke="#111" stroke-width="0.2">+</text>
<text x="357.80" y="256.00" font-size="4.6" text-anchor="middle" fill="#111" font-weight="bold"  stroke="#111" stroke-width="0.2">+</text>
<text x="377.40" y="256.00" font-size="4.6" text-anchor="middle" fill="#111" font-weight="bold"  stroke="#111" stroke-width="0.2">+</text>
<text x="398.50" y="256.00" font-size="4.6" text-anchor="middle" fill="#111" font-weight="bold"  stroke="#111" stroke-width="0.2">+</text>
<text x="322.20" y="263.60" font-size="4.6" text-anchor="middle" fill="#111" font-weight="bold"  stroke="#111" stroke-width="0.2">-</text>
<text x="338.80" y="264.80" font-size="6.4" text-anchor="middle" fill="#111" textLength="9.50" lengthAdjust="spacingAndGlyphs" font-weight="normal"  stroke="#111" stroke-width="0.2">15.6</text>
<text x="356.90" y="264.80" font-size="6.4" text-anchor="middle" fill="#111" textLength="9.50" lengthAdjust="spacingAndGlyphs" font-weight="normal"  stroke="#111" stroke-width="0.2">62.5</text>
<text x="377.10" y="264.80" font-size="6.4" text-anchor="middle" fill="#111" textLength="8.10" lengthAdjust="spacingAndGlyphs" font-weight="normal"  stroke="#111" stroke-width="0.2">250</text>
<text x="398.20" y="264.80" font-size="6.4" text-anchor="middle" fill="#111" textLength="8.10" lengthAdjust="spacingAndGlyphs" font-weight="normal"  stroke="#111" stroke-width="0.2">500</text>
<line x1="448.80" y1="138.40" x2="448.80" y2="246.60" stroke="#9a9a9a" stroke-width="0.8"/>
<line x1="448.80" y1="246.60" x2="541.00" y2="246.60" stroke="#9a9a9a" stroke-width="0.8"/>
<line x1="447.20" y1="246.60" x2="448.80" y2="246.60" stroke="#9a9a9a" stroke-width="0.7"/>
<text x="444.30" y="248.90" font-size="6.6" text-anchor="end" fill="#111" textLength="2.53" lengthAdjust="spacingAndGlyphs" font-weight="normal"  stroke="#111" stroke-width="0.2">0</text>
<line x1="447.20" y1="228.57" x2="448.80" y2="228.57" stroke="#9a9a9a" stroke-width="0.7"/>
<text x="444.30" y="230.87" font-size="6.6" text-anchor="end" fill="#111" textLength="7.59" lengthAdjust="spacingAndGlyphs" font-weight="normal"  stroke="#111" stroke-width="0.2">100</text>
<line x1="447.20" y1="210.53" x2="448.80" y2="210.53" stroke="#9a9a9a" stroke-width="0.7"/>
<text x="444.30" y="212.83" font-size="6.6" text-anchor="end" fill="#111" textLength="7.59" lengthAdjust="spacingAndGlyphs" font-weight="normal"  stroke="#111" stroke-width="0.2">200</text>
<line x1="447.20" y1="192.50" x2="448.80" y2="192.50" stroke="#9a9a9a" stroke-width="0.7"/>
<text x="444.30" y="194.80" font-size="6.6" text-anchor="end" fill="#111" textLength="7.59" lengthAdjust="spacingAndGlyphs" font-weight="normal"  stroke="#111" stroke-width="0.2">300</text>
<line x1="447.20" y1="174.47" x2="448.80" y2="174.47" stroke="#9a9a9a" stroke-width="0.7"/>
<text x="444.30" y="176.77" font-size="6.6" text-anchor="end" fill="#111" textLength="7.59" lengthAdjust="spacingAndGlyphs" font-weight="normal"  stroke="#111" stroke-width="0.2">400</text>
<line x1="447.20" y1="156.43" x2="448.80" y2="156.43" stroke="#9a9a9a" stroke-width="0.7"/>
<text x="444.30" y="158.73" font-size="6.6" text-anchor="end" fill="#111" textLength="7.59" lengthAdjust="spacingAndGlyphs" font-weight="normal"  stroke="#111" stroke-width="0.2">500</text>
<line x1="447.20" y1="138.40" x2="448.80" y2="138.40" stroke="#9a9a9a" stroke-width="0.7"/>
<text x="444.30" y="140.70" font-size="6.6" text-anchor="end" fill="#111" textLength="7.59" lengthAdjust="spacingAndGlyphs" font-weight="normal"  stroke="#111" stroke-width="0.2">600</text>
<line x1="448.80" y1="246.60" x2="448.80" y2="248.10" stroke="#9a9a9a" stroke-width="0.7"/>
<line x1="464.55" y1="246.60" x2="464.55" y2="248.10" stroke="#9a9a9a" stroke-width="0.7"/>
<line x1="479.80" y1="246.60" x2="479.80" y2="248.10" stroke="#9a9a9a" stroke-width="0.7"/>
<line x1="494.95" y1="246.60" x2="494.95" y2="248.10" stroke="#9a9a9a" stroke-width="0.7"/>
<line x1="510.30" y1="246.60" x2="510.30" y2="248.10" stroke="#9a9a9a" stroke-width="0.7"/>
<line x1="525.75" y1="246.60" x2="525.75" y2="248.10" stroke="#9a9a9a" stroke-width="0.7"/>
<line x1="541.00" y1="246.60" x2="541.00" y2="248.10" stroke="#9a9a9a" stroke-width="0.7"/>
<rect x="451.20" y="245.60" width="11.20" height="1.00" fill="#000"/>
<line x1="472.30" y1="203.20" x2="472.30" y2="210.80" stroke="#999" stroke-width="1.1"/>
<line x1="471.40" y1="203.50" x2="473.20" y2="203.50" stroke="#999" stroke-width="0.8"/>
<rect x="466.70" y="207.80" width="11.20" height="38.80" fill="#000"/>
<rect x="482.15" y="210.75" width="10.30" height="35.85" fill="url(#hatch)" stroke="#333" stroke-width="0.9"/>
<line x1="502.60" y1="197.10" x2="502.60" y2="204.90" stroke="#999" stroke-width="1.1"/>
<line x1="501.70" y1="197.40" x2="503.50" y2="197.40" stroke="#999" stroke-width="0.8"/>
<rect x="497.45" y="202.35" width="10.30" height="44.25" fill="url(#hatch)" stroke="#333" stroke-width="0.9"/>
<line x1="502.60" y1="202.90" x2="502.60" y2="206.70" stroke="#999" stroke-width="1.0"/>
<line x1="518.00" y1="176.50" x2="518.00" y2="182.30" stroke="#999" stroke-width="1.1"/>
<line x1="517.10" y1="176.80" x2="518.90" y2="176.80" stroke="#999" stroke-width="0.8"/>
<rect x="512.85" y="179.75" width="10.30" height="66.85" fill="url(#hatch)" stroke="#333" stroke-width="0.9"/>
<line x1="518.00" y1="180.30" x2="518.00" y2="182.10" stroke="#999" stroke-width="1.0"/>
<rect x="528.35" y="151.75" width="10.30" height="94.85" fill="url(#hatch)" stroke="#333" stroke-width="0.9"/>
<text x="520.40" y="174.30" font-size="10" text-anchor="middle" fill="#000" textLength="7.16" lengthAdjust="spacingAndGlyphs" font-weight="bold"  stroke="#000" stroke-width="0.2">**</text>
<text x="533.60" y="148.50" font-size="10" text-anchor="middle" fill="#000" textLength="7.16" lengthAdjust="spacingAndGlyphs" font-weight="bold"  stroke="#000" stroke-width="0.2">**</text>
<text x="472.90" y="144.20" font-size="11.340000000000002" text-anchor="start" fill="#111" textLength="17.20" lengthAdjust="spacingAndGlyphs" font-weight="normal"  stroke="#111" stroke-width="0.2">IL-10</text>
<text x="422.90" y="194.80" font-size="6.0" text-anchor="middle" fill="#111" textLength="15.30" lengthAdjust="spacingAndGlyphs" transform="rotate(-90 422.90 194.80)" font-weight="normal"  stroke="#111" stroke-width="0.2">pg/mL</text>
<text x="424.00" y="256.40" font-size="6.6" text-anchor="start" fill="#111" textLength="10.20" lengthAdjust="spacingAndGlyphs" font-weight="normal"  stroke="#111" stroke-width="0.2">LPS</text>
<text x="424.00" y="264.80" font-size="6.6" text-anchor="start" fill="#111" textLength="29.80" lengthAdjust="spacingAndGlyphs" font-weight="normal"  stroke="#111" stroke-width="0.2">TAE (μg/mL)</text>
<text x="458.30" y="255.80" font-size="4.6" text-anchor="middle" fill="#111" font-weight="bold"  stroke="#111" stroke-width="0.2">-</text>
<text x="471.80" y="255.80" font-size="4.6" text-anchor="middle" fill="#111" font-weight="bold"  stroke="#111" stroke-width="0.2">+</text>
<text x="485.60" y="255.80" font-size="4.6" text-anchor="middle" fill="#111" font-weight="bold"  stroke="#111" stroke-width="0.2">+</text>
<text x="501.00" y="255.80" font-size="4.6" text-anchor="middle" fill="#111" font-weight="bold"  stroke="#111" stroke-width="0.2">+</text>
<text x="518.10" y="255.80" font-size="4.6" text-anchor="middle" fill="#111" font-weight="bold"  stroke="#111" stroke-width="0.2">+</text>
<text x="536.50" y="255.80" font-size="4.6" text-anchor="middle" fill="#111" font-weight="bold"  stroke="#111" stroke-width="0.2">+</text>
<text x="458.30" y="263.60" font-size="4.6" text-anchor="middle" fill="#111" font-weight="bold"  stroke="#111" stroke-width="0.2">-</text>
<text x="471.80" y="263.60" font-size="4.6" text-anchor="middle" fill="#111" font-weight="bold"  stroke="#111" stroke-width="0.2">-</text>
<text x="486.30" y="264.80" font-size="6.4" text-anchor="middle" fill="#111" textLength="9.50" lengthAdjust="spacingAndGlyphs" font-weight="normal"  stroke="#111" stroke-width="0.2">15.6</text>
<text x="501.00" y="264.80" font-size="6.4" text-anchor="middle" fill="#111" textLength="9.50" lengthAdjust="spacingAndGlyphs" font-weight="normal"  stroke="#111" stroke-width="0.2">62.5</text>
<text x="517.80" y="264.80" font-size="6.4" text-anchor="middle" fill="#111" textLength="8.10" lengthAdjust="spacingAndGlyphs" font-weight="normal"  stroke="#111" stroke-width="0.2">250</text>
<text x="536.80" y="264.80" font-size="6.4" text-anchor="middle" fill="#111" textLength="10.80" lengthAdjust="spacingAndGlyphs" font-weight="normal"  stroke="#111" stroke-width="0.2">1000</text>
<line x1="35.60" y1="271.50" x2="35.60" y2="379.60" stroke="#9a9a9a" stroke-width="0.8"/>
<line x1="35.60" y1="379.60" x2="127.50" y2="379.60" stroke="#9a9a9a" stroke-width="0.8"/>
<line x1="34.00" y1="379.60" x2="35.60" y2="379.60" stroke="#9a9a9a" stroke-width="0.7"/>
<text x="31.10" y="381.90" font-size="6.6" text-anchor="end" fill="#111" textLength="2.28" lengthAdjust="spacingAndGlyphs" font-weight="normal"  stroke="#111" stroke-width="0.2">0</text>
<line x1="34.00" y1="368.79" x2="35.60" y2="368.79" stroke="#9a9a9a" stroke-width="0.7"/>
<text x="31.10" y="371.09" font-size="6.6" text-anchor="end" fill="#111" textLength="6.84" lengthAdjust="spacingAndGlyphs" font-weight="normal"  stroke="#111" stroke-width="0.2">100</text>
<line x1="34.00" y1="357.98" x2="35.60" y2="357.98" stroke="#9a9a9a" stroke-width="0.7"/>
<text x="31.10" y="360.28" font-size="6.6" text-anchor="end" fill="#111" textLength="6.84" lengthAdjust="spacingAndGlyphs" font-weight="normal"  stroke="#111" stroke-width="0.2">200</text>
<line x1="34.00" y1="347.17" x2="35.60" y2="347.17" stroke="#9a9a9a" stroke-width="0.7"/>
<text x="31.10" y="349.47" font-size="6.6" text-anchor="end" fill="#111" textLength="6.84" lengthAdjust="spacingAndGlyphs" font-weight="normal"  stroke="#111" stroke-width="0.2">300</text>
<line x1="34.00" y1="336.36" x2="35.60" y2="336.36" stroke="#9a9a9a" stroke-width="0.7"/>
<text x="31.10" y="338.66" font-size="6.6" text-anchor="end" fill="#111" textLength="6.84" lengthAdjust="spacingAndGlyphs" font-weight="normal"  stroke="#111" stroke-width="0.2">400</text>
<line x1="34.00" y1="325.55" x2="35.60" y2="325.55" stroke="#9a9a9a" stroke-width="0.7"/>
<text x="31.10" y="327.85" font-size="6.6" text-anchor="end" fill="#111" textLength="6.84" lengthAdjust="spacingAndGlyphs" font-weight="normal"  stroke="#111" stroke-width="0.2">500</text>
<line x1="34.00" y1="314.74" x2="35.60" y2="314.74" stroke="#9a9a9a" stroke-width="0.7"/>
<text x="31.10" y="317.04" font-size="6.6" text-anchor="end" fill="#111" textLength="6.84" lengthAdjust="spacingAndGlyphs" font-weight="normal"  stroke="#111" stroke-width="0.2">600</text>
<line x1="34.00" y1="303.93" x2="35.60" y2="303.93" stroke="#9a9a9a" stroke-width="0.7"/>
<text x="31.10" y="306.23" font-size="6.6" text-anchor="end" fill="#111" textLength="6.84" lengthAdjust="spacingAndGlyphs" font-weight="normal"  stroke="#111" stroke-width="0.2">700</text>
<line x1="34.00" y1="293.12" x2="35.60" y2="293.12" stroke="#9a9a9a" stroke-width="0.7"/>
<text x="31.10" y="295.42" font-size="6.6" text-anchor="end" fill="#111" textLength="6.84" lengthAdjust="spacingAndGlyphs" font-weight="normal"  stroke="#111" stroke-width="0.2">800</text>
<line x1="34.00" y1="282.31" x2="35.60" y2="282.31" stroke="#9a9a9a" stroke-width="0.7"/>
<text x="31.10" y="284.61" font-size="6.6" text-anchor="end" fill="#111" textLength="6.84" lengthAdjust="spacingAndGlyphs" font-weight="normal"  stroke="#111" stroke-width="0.2">900</text>
<line x1="34.00" y1="271.50" x2="35.60" y2="271.50" stroke="#9a9a9a" stroke-width="0.7"/>
<text x="31.10" y="273.80" font-size="6.6" text-anchor="end" fill="#111" textLength="9.12" lengthAdjust="spacingAndGlyphs" font-weight="normal"  stroke="#111" stroke-width="0.2">1000</text>
<line x1="35.60" y1="379.60" x2="35.60" y2="381.10" stroke="#9a9a9a" stroke-width="0.7"/>
<line x1="50.90" y1="379.60" x2="50.90" y2="381.10" stroke="#9a9a9a" stroke-width="0.7"/>
<line x1="66.05" y1="379.60" x2="66.05" y2="381.10" stroke="#9a9a9a" stroke-width="0.7"/>
<line x1="81.20" y1="379.60" x2="81.20" y2="381.10" stroke="#9a9a9a" stroke-width="0.7"/>
<line x1="96.40" y1="379.60" x2="96.40" y2="381.10" stroke="#9a9a9a" stroke-width="0.7"/>
<line x1="111.65" y1="379.60" x2="111.65" y2="381.10" stroke="#9a9a9a" stroke-width="0.7"/>
<line x1="127.50" y1="379.60" x2="127.50" y2="381.10" stroke="#9a9a9a" stroke-width="0.7"/>
<line x1="58.50" y1="277.00" x2="58.50" y2="290.90" stroke="#999" stroke-width="1.1"/>
<line x1="57.60" y1="277.30" x2="59.40" y2="277.30" stroke="#999" stroke-width="0.8"/>
<rect x="53.00" y="287.90" width="11.00" height="91.70" fill="#000"/>
<line x1="73.60" y1="301.40" x2="73.60" y2="312.00" stroke="#999" stroke-width="1.1"/>
<line x1="72.70" y1="301.70" x2="74.50" y2="301.70" stroke="#999" stroke-width="0.8"/>
<rect x="68.55" y="309.45" width="10.10" height="70.15" fill="url(#hatch)" stroke="#333" stroke-width="0.9"/>
<line x1="73.60" y1="310.00" x2="73.60" y2="316.60" stroke="#999" stroke-width="1.0"/>
<line x1="88.80" y1="280.30" x2="88.80" y2="298.50" stroke="#999" stroke-width="1.1"/>
<line x1="87.90" y1="280.60" x2="89.70" y2="280.60" stroke="#999" stroke-width="0.8"/>
<rect x="83.75" y="295.95" width="10.10" height="83.65" fill="url(#hatch)" stroke="#333" stroke-width="0.9"/>
<line x1="88.80" y1="296.50" x2="88.80" y2="310.70" stroke="#999" stroke-width="1.0"/>
<line x1="104.00" y1="299.40" x2="104.00" y2="312.50" stroke="#999" stroke-width="1.1"/>
<line x1="103.10" y1="299.70" x2="104.90" y2="299.70" stroke="#999" stroke-width="0.8"/>
<rect x="98.95" y="309.95" width="10.10" height="69.65" fill="url(#hatch)" stroke="#333" stroke-width="0.9"/>
<line x1="104.00" y1="310.50" x2="104.00" y2="319.60" stroke="#999" stroke-width="1.0"/>
<line x1="119.30" y1="326.80" x2="119.30" y2="336.70" stroke="#999" stroke-width="1.1"/>
<line x1="118.40" y1="327.10" x2="120.20" y2="327.10" stroke="#999" stroke-width="0.8"/>
<rect x="114.25" y="334.15" width="10.10" height="45.45" fill="url(#hatch)" stroke="#333" stroke-width="0.9"/>
<line x1="119.30" y1="334.70" x2="119.30" y2="340.60" stroke="#999" stroke-width="1.0"/>
<text x="71.80" y="299.40" font-size="10" text-anchor="middle" fill="#000" font-weight="bold"  stroke="#000" stroke-width="0.2">*</text>
<text x="103.80" y="298.90" font-size="10" text-anchor="middle" fill="#000" font-weight="bold"  stroke="#000" stroke-width="0.2">*</text>
<text x="121.40" y="321.00" font-size="10" text-anchor="middle" fill="#000" textLength="7.16" lengthAdjust="spacingAndGlyphs" font-weight="bold"  stroke="#000" stroke-width="0.2">**</text>
<text x="95.10" y="277.40" font-size="10.290000000000001" text-anchor="start" fill="#111" textLength="35.00" lengthAdjust="spacingAndGlyphs" font-weight="normal"  stroke="#111" stroke-width="0.2">IL-12(p70)</text>
<text x="9.50" y="327.70" font-size="6.0" text-anchor="middle" fill="#111" textLength="15.30" lengthAdjust="spacingAndGlyphs" transform="rotate(-90 9.50 327.70)" font-weight="normal"  stroke="#111" stroke-width="0.2">pg/mL</text>
<text x="10.70" y="388.70" font-size="6.6" text-anchor="start" fill="#111" textLength="10.20" lengthAdjust="spacingAndGlyphs" font-weight="normal"  stroke="#111" stroke-width="0.2">LPS</text>
<text x="10.70" y="396.50" font-size="6.6" text-anchor="start" fill="#111" textLength="29.80" lengthAdjust="spacingAndGlyphs" font-weight="normal"  stroke="#111" stroke-width="0.2">TAE (μg/mL)</text>
<text x="45.30" y="388.10" font-size="4.6" text-anchor="middle" fill="#111" font-weight="bold"  stroke="#111" stroke-width="0.2">-</text>
<text x="58.50" y="388.10" font-size="4.6" text-anchor="middle" fill="#111" font-weight="bold"  stroke="#111" stroke-width="0.2">+</text>
<text x="72.50" y="388.10" font-size="4.6" text-anchor="middle" fill="#111" font-weight="bold"  stroke="#111" stroke-width="0.2">+</text>
<text x="87.80" y="388.10" font-size="4.6" text-anchor="middle" fill="#111" font-weight="bold"  stroke="#111" stroke-width="0.2">+</text>
<text x="104.30" y="388.10" font-size="4.6" text-anchor="middle" fill="#111" font-weight="bold"  stroke="#111" stroke-width="0.2">+</text>
<text x="122.60" y="388.10" font-size="4.6" text-anchor="middle" fill="#111" font-weight="bold"  stroke="#111" stroke-width="0.2">+</text>
<text x="45.30" y="395.30" font-size="4.6" text-anchor="middle" fill="#111" font-weight="bold"  stroke="#111" stroke-width="0.2">-</text>
<text x="58.50" y="395.30" font-size="4.6" text-anchor="middle" fill="#111" font-weight="bold"  stroke="#111" stroke-width="0.2">-</text>
<text x="72.50" y="396.50" font-size="6.4" text-anchor="middle" fill="#111" textLength="9.50" lengthAdjust="spacingAndGlyphs" font-weight="normal"  stroke="#111" stroke-width="0.2">15.6</text>
<text x="87.80" y="396.50" font-size="6.4" text-anchor="middle" fill="#111" textLength="9.50" lengthAdjust="spacingAndGlyphs" font-weight="normal"  stroke="#111" stroke-width="0.2">62.5</text>
<text x="104.30" y="396.50" font-size="6.4" text-anchor="middle" fill="#111" textLength="8.10" lengthAdjust="spacingAndGlyphs" font-weight="normal"  stroke="#111" stroke-width="0.2">250</text>
<text x="123.00" y="396.50" font-size="6.4" text-anchor="middle" fill="#111" textLength="10.80" lengthAdjust="spacingAndGlyphs" font-weight="normal"  stroke="#111" stroke-width="0.2">1000</text>
<line x1="172.00" y1="276.10" x2="172.00" y2="378.90" stroke="#9a9a9a" stroke-width="0.8"/>
<line x1="172.00" y1="378.90" x2="261.50" y2="378.90" stroke="#9a9a9a" stroke-width="0.8"/>
<line x1="170.40" y1="378.90" x2="172.00" y2="378.90" stroke="#9a9a9a" stroke-width="0.7"/>
<text x="167.50" y="381.20" font-size="6.6" text-anchor="end" fill="#111" textLength="2.28" lengthAdjust="spacingAndGlyphs" font-weight="normal"  stroke="#111" stroke-width="0.2">0</text>
<line x1="170.40" y1="368.62" x2="172.00" y2="368.62" stroke="#9a9a9a" stroke-width="0.7"/>
<text x="167.50" y="370.92" font-size="6.6" text-anchor="end" fill="#111" textLength="9.12" lengthAdjust="spacingAndGlyphs" font-weight="normal"  stroke="#111" stroke-width="0.2">2000</text>
<line x1="170.40" y1="358.34" x2="172.00" y2="358.34" stroke="#9a9a9a" stroke-width="0.7"/>
<text x="167.50" y="360.64" font-size="6.6" text-anchor="end" fill="#111" textLength="9.12" lengthAdjust="spacingAndGlyphs" font-weight="normal"  stroke="#111" stroke-width="0.2">4000</text>
<line x1="170.40" y1="348.06" x2="172.00" y2="348.06" stroke="#9a9a9a" stroke-width="0.7"/>
<text x="167.50" y="350.36" font-size="6.6" text-anchor="end" fill="#111" textLength="9.12" lengthAdjust="spacingAndGlyphs" font-weight="normal"  stroke="#111" stroke-width="0.2">6000</text>
<line x1="170.40" y1="337.78" x2="172.00" y2="337.78" stroke="#9a9a9a" stroke-width="0.7"/>
<text x="167.50" y="340.08" font-size="6.6" text-anchor="end" fill="#111" textLength="9.12" lengthAdjust="spacingAndGlyphs" font-weight="normal"  stroke="#111" stroke-width="0.2">8000</text>
<line x1="170.40" y1="327.50" x2="172.00" y2="327.50" stroke="#9a9a9a" stroke-width="0.7"/>
<text x="167.50" y="329.80" font-size="6.6" text-anchor="end" fill="#111" textLength="11.40" lengthAdjust="spacingAndGlyphs" font-weight="normal"  stroke="#111" stroke-width="0.2">10000</text>
<line x1="170.40" y1="317.22" x2="172.00" y2="317.22" stroke="#9a9a9a" stroke-width="0.7"/>
<text x="167.50" y="319.52" font-size="6.6" text-anchor="end" fill="#111" textLength="11.40" lengthAdjust="spacingAndGlyphs" font-weight="normal"  stroke="#111" stroke-width="0.2">12000</text>
<line x1="170.40" y1="306.94" x2="172.00" y2="306.94" stroke="#9a9a9a" stroke-width="0.7"/>
<text x="167.50" y="309.24" font-size="6.6" text-anchor="end" fill="#111" textLength="11.40" lengthAdjust="spacingAndGlyphs" font-weight="normal"  stroke="#111" stroke-width="0.2">14000</text>
<line x1="170.40" y1="296.66" x2="172.00" y2="296.66" stroke="#9a9a9a" stroke-width="0.7"/>
<text x="167.50" y="298.96" font-size="6.6" text-anchor="end" fill="#111" textLength="11.40" lengthAdjust="spacingAndGlyphs" font-weight="normal"  stroke="#111" stroke-width="0.2">16000</text>
<line x1="170.40" y1="286.38" x2="172.00" y2="286.38" stroke="#9a9a9a" stroke-width="0.7"/>
<text x="167.50" y="288.68" font-size="6.6" text-anchor="end" fill="#111" textLength="11.40" lengthAdjust="spacingAndGlyphs" font-weight="normal"  stroke="#111" stroke-width="0.2">18000</text>
<line x1="170.40" y1="276.10" x2="172.00" y2="276.10" stroke="#9a9a9a" stroke-width="0.7"/>
<text x="167.50" y="278.40" font-size="6.6" text-anchor="end" fill="#111" textLength="11.40" lengthAdjust="spacingAndGlyphs" font-weight="normal"  stroke="#111" stroke-width="0.2">20000</text>
<line x1="172.00" y1="378.90" x2="172.00" y2="380.40" stroke="#9a9a9a" stroke-width="0.7"/>
<line x1="190.20" y1="378.90" x2="190.20" y2="380.40" stroke="#9a9a9a" stroke-width="0.7"/>
<line x1="208.20" y1="378.90" x2="208.20" y2="380.40" stroke="#9a9a9a" stroke-width="0.7"/>
<line x1="225.90" y1="378.90" x2="225.90" y2="380.40" stroke="#9a9a9a" stroke-width="0.7"/>
<line x1="243.60" y1="378.90" x2="243.60" y2="380.40" stroke="#9a9a9a" stroke-width="0.7"/>
<line x1="261.50" y1="378.90" x2="261.50" y2="380.40" stroke="#9a9a9a" stroke-width="0.7"/>
<line x1="181.30" y1="319.20" x2="181.30" y2="331.60" stroke="#999" stroke-width="1.1"/>
<line x1="180.40" y1="319.50" x2="182.20" y2="319.50" stroke="#999" stroke-width="0.8"/>
<rect x="174.80" y="328.60" width="13.00" height="50.30" fill="#000"/>
<line x1="199.10" y1="324.00" x2="199.10" y2="333.60" stroke="#999" stroke-width="1.1"/>
<line x1="198.20" y1="324.30" x2="200.00" y2="324.30" stroke="#999" stroke-width="0.8"/>
<rect x="193.05" y="331.05" width="12.10" height="47.85" fill="url(#hatch)" stroke="#333" stroke-width="0.9"/>
<line x1="199.10" y1="331.60" x2="199.10" y2="337.20" stroke="#999" stroke-width="1.0"/>
<line x1="217.30" y1="302.70" x2="217.30" y2="313.30" stroke="#999" stroke-width="1.1"/>
<line x1="216.40" y1="303.00" x2="218.20" y2="303.00" stroke="#999" stroke-width="0.8"/>
<rect x="211.25" y="310.75" width="12.10" height="68.15" fill="url(#hatch)" stroke="#333" stroke-width="0.9"/>
<line x1="217.30" y1="311.30" x2="217.30" y2="317.90" stroke="#999" stroke-width="1.0"/>
<line x1="234.50" y1="301.40" x2="234.50" y2="315.10" stroke="#999" stroke-width="1.1"/>
<line x1="233.60" y1="301.70" x2="235.40" y2="301.70" stroke="#999" stroke-width="0.8"/>
<rect x="228.45" y="312.55" width="12.10" height="66.35" fill="url(#hatch)" stroke="#333" stroke-width="0.9"/>
<line x1="234.50" y1="313.10" x2="234.50" y2="322.80" stroke="#999" stroke-width="1.0"/>
<line x1="252.70" y1="284.10" x2="252.70" y2="305.70" stroke="#999" stroke-width="1.1"/>
<line x1="251.80" y1="284.40" x2="253.60" y2="284.40" stroke="#999" stroke-width="0.8"/>
<rect x="246.65" y="303.15" width="12.10" height="75.75" fill="url(#hatch)" stroke="#333" stroke-width="0.9"/>
<line x1="252.70" y1="303.70" x2="252.70" y2="321.30" stroke="#999" stroke-width="1.0"/>
<text x="254.30" y="299.10" font-size="10" text-anchor="middle" fill="#000" font-weight="bold"  stroke="#000" stroke-width="0.2">*</text>
<text x="223.10" y="281.60" font-size="9.345" text-anchor="start" fill="#111" textLength="43.20" lengthAdjust="spacingAndGlyphs" font-weight="normal"  stroke="#111" stroke-width="0.2">CCL2/MCP-1</text>
<text x="147.60" y="329.50" font-size="6.0" text-anchor="middle" fill="#111" textLength="15.30" lengthAdjust="spacingAndGlyphs" transform="rotate(-90 147.60 329.50)" font-weight="normal"  stroke="#111" stroke-width="0.2">pg/mL</text>
<text x="148.30" y="387.90" font-size="6.6" text-anchor="start" fill="#111" textLength="10.20" lengthAdjust="spacingAndGlyphs" font-weight="normal"  stroke="#111" stroke-width="0.2">LPS</text>
<text x="148.30" y="395.50" font-size="6.6" text-anchor="start" fill="#111" textLength="29.80" lengthAdjust="spacingAndGlyphs" font-weight="normal"  stroke="#111" stroke-width="0.2">TAE (μg/mL)</text>
<text x="184.00" y="387.30" font-size="4.6" text-anchor="middle" fill="#111" font-weight="bold"  stroke="#111" stroke-width="0.2">+</text>
<text x="200.60" y="387.30" font-size="4.6" text-anchor="middle" fill="#111" font-weight="bold"  stroke="#111" stroke-width="0.2">+</text>
<text x="218.90" y="387.30" font-size="4.6" text-anchor="middle" fill="#111" font-weight="bold"  stroke="#111" stroke-width="0.2">+</text>
<text x="236.70" y="387.30" font-size="4.6" text-anchor="middle" fill="#111" font-weight="bold"  stroke="#111" stroke-width="0.2">+</text>
<text x="257.00" y="387.30" font-size="4.6" text-anchor="middle" fill="#111" font-weight="bold"  stroke="#111" stroke-width="0.2">+</text>
<text x="184.00" y="394.30" font-size="4.6" text-anchor="middle" fill="#111" font-weight="bold"  stroke="#111" stroke-width="0.2">-</text>
<text x="200.30" y="395.50" font-size="6.4" text-anchor="middle" fill="#111" textLength="9.50" lengthAdjust="spacingAndGlyphs" font-weight="normal"  stroke="#111" stroke-width="0.2">15.6</text>
<text x="218.60" y="395.50" font-size="6.4" text-anchor="middle" fill="#111" textLength="9.50" lengthAdjust="spacingAndGlyphs" font-weight="normal"  stroke="#111" stroke-width="0.2">62.5</text>
<text x="236.10" y="395.50" font-size="6.4" text-anchor="middle" fill="#111" textLength="8.10" lengthAdjust="spacingAndGlyphs" font-weight="normal"  stroke="#111" stroke-width="0.2">250</text>
<text x="257.30" y="395.50" font-size="6.4" text-anchor="middle" fill="#111" textLength="8.10" lengthAdjust="spacingAndGlyphs" font-weight="normal"  stroke="#111" stroke-width="0.2">500</text>
<line x1="311.10" y1="283.50" x2="311.10" y2="380.10" stroke="#9a9a9a" stroke-width="0.8"/>
<line x1="311.10" y1="380.10" x2="402.60" y2="380.10" stroke="#9a9a9a" stroke-width="0.8"/>
<line x1="309.50" y1="380.10" x2="311.10" y2="380.10" stroke="#9a9a9a" stroke-width="0.7"/>
<text x="306.60" y="382.40" font-size="6.6" text-anchor="end" fill="#111" textLength="2.33" lengthAdjust="spacingAndGlyphs" font-weight="normal"  stroke="#111" stroke-width="0.2">0</text>
<line x1="309.50" y1="368.03" x2="311.10" y2="368.03" stroke="#9a9a9a" stroke-width="0.7"/>
<text x="306.60" y="370.33" font-size="6.6" text-anchor="end" fill="#111" textLength="13.98" lengthAdjust="spacingAndGlyphs" font-weight="normal"  stroke="#111" stroke-width="0.2">200000</text>
<line x1="309.50" y1="355.95" x2="311.10" y2="355.95" stroke="#9a9a9a" stroke-width="0.7"/>
<text x="306.60" y="358.25" font-size="6.6" text-anchor="end" fill="#111" textLength="13.98" lengthAdjust="spacingAndGlyphs" font-weight="normal"  stroke="#111" stroke-width="0.2">400000</text>
<line x1="309.50" y1="343.88" x2="311.10" y2="343.88" stroke="#9a9a9a" stroke-width="0.7"/>
<text x="306.60" y="346.18" font-size="6.6" text-anchor="end" fill="#111" textLength="13.98" lengthAdjust="spacingAndGlyphs" font-weight="normal"  stroke="#111" stroke-width="0.2">600000</text>
<line x1="309.50" y1="331.80" x2="311.10" y2="331.80" stroke="#9a9a9a" stroke-width="0.7"/>
<text x="306.60" y="334.10" font-size="6.6" text-anchor="end" fill="#111" textLength="13.98" lengthAdjust="spacingAndGlyphs" font-weight="normal"  stroke="#111" stroke-width="0.2">800000</text>
<line x1="309.50" y1="319.73" x2="311.10" y2="319.73" stroke="#9a9a9a" stroke-width="0.7"/>
<text x="306.60" y="322.03" font-size="6.6" text-anchor="end" fill="#111" textLength="16.31" lengthAdjust="spacingAndGlyphs" font-weight="normal"  stroke="#111" stroke-width="0.2">1000000</text>
<line x1="309.50" y1="307.65" x2="311.10" y2="307.65" stroke="#9a9a9a" stroke-width="0.7"/>
<text x="306.60" y="309.95" font-size="6.6" text-anchor="end" fill="#111" textLength="16.31" lengthAdjust="spacingAndGlyphs" font-weight="normal"  stroke="#111" stroke-width="0.2">1200000</text>
<line x1="309.50" y1="295.57" x2="311.10" y2="295.57" stroke="#9a9a9a" stroke-width="0.7"/>
<text x="306.60" y="297.88" font-size="6.6" text-anchor="end" fill="#111" textLength="16.31" lengthAdjust="spacingAndGlyphs" font-weight="normal"  stroke="#111" stroke-width="0.2">1400000</text>
<line x1="309.50" y1="283.50" x2="311.10" y2="283.50" stroke="#9a9a9a" stroke-width="0.7"/>
<text x="306.60" y="285.80" font-size="6.6" text-anchor="end" fill="#111" textLength="16.31" lengthAdjust="spacingAndGlyphs" font-weight="normal"  stroke="#111" stroke-width="0.2">1600000</text>
<line x1="311.10" y1="380.10" x2="311.10" y2="381.60" stroke="#9a9a9a" stroke-width="0.7"/>
<line x1="329.20" y1="380.10" x2="329.20" y2="381.60" stroke="#9a9a9a" stroke-width="0.7"/>
<line x1="347.45" y1="380.10" x2="347.45" y2="381.60" stroke="#9a9a9a" stroke-width="0.7"/>
<line x1="365.90" y1="380.10" x2="365.90" y2="381.60" stroke="#9a9a9a" stroke-width="0.7"/>
<line x1="384.30" y1="380.10" x2="384.30" y2="381.60" stroke="#9a9a9a" stroke-width="0.7"/>
<line x1="402.60" y1="380.10" x2="402.60" y2="381.60" stroke="#9a9a9a" stroke-width="0.7"/>
<line x1="320.30" y1="329.10" x2="320.30" y2="334.90" stroke="#999" stroke-width="1.1"/>
<line x1="319.40" y1="329.40" x2="321.20" y2="329.40" stroke="#999" stroke-width="0.8"/>
<rect x="313.80" y="331.90" width="13.00" height="48.20" fill="#000"/>
<line x1="338.10" y1="317.20" x2="338.10" y2="326.50" stroke="#999" stroke-width="1.1"/>
<line x1="337.20" y1="317.50" x2="339.00" y2="317.50" stroke="#999" stroke-width="0.8"/>
<rect x="332.05" y="323.95" width="12.10" height="56.15" fill="url(#hatch)" stroke="#333" stroke-width="0.9"/>
<line x1="338.10" y1="324.50" x2="338.10" y2="329.80" stroke="#999" stroke-width="1.0"/>
<line x1="356.80" y1="313.30" x2="356.80" y2="317.60" stroke="#999" stroke-width="1.1"/>
<line x1="355.90" y1="313.60" x2="357.70" y2="313.60" stroke="#999" stroke-width="0.8"/>
<rect x="350.75" y="315.05" width="12.10" height="65.05" fill="url(#hatch)" stroke="#333" stroke-width="0.9"/>
<line x1="375.00" y1="312.50" x2="375.00" y2="316.30" stroke="#999" stroke-width="1.1"/>
<line x1="374.10" y1="312.80" x2="375.90" y2="312.80" stroke="#999" stroke-width="0.8"/>
<rect x="368.95" y="313.75" width="12.10" height="66.35" fill="url(#hatch)" stroke="#333" stroke-width="0.9"/>
<line x1="393.60" y1="292.20" x2="393.60" y2="299.30" stroke="#999" stroke-width="1.1"/>
<line x1="392.70" y1="292.50" x2="394.50" y2="292.50" stroke="#999" stroke-width="0.8"/>
<rect x="387.55" y="296.75" width="12.10" height="83.35" fill="url(#hatch)" stroke="#333" stroke-width="0.9"/>
<line x1="393.60" y1="297.30" x2="393.60" y2="300.40" stroke="#999" stroke-width="1.0"/>
<text x="357.00" y="305.00" font-size="10" text-anchor="middle" fill="#000" textLength="7.16" lengthAdjust="spacingAndGlyphs" font-weight="bold"  stroke="#000" stroke-width="0.2">**</text>
<text x="375.60" y="299.90" font-size="10" text-anchor="middle" fill="#000" textLength="7.16" lengthAdjust="spacingAndGlyphs" font-weight="bold"  stroke="#000" stroke-width="0.2">**</text>
<text x="393.90" y="287.40" font-size="10" text-anchor="middle" fill="#000" textLength="7.16" lengthAdjust="spacingAndGlyphs" font-weight="bold"  stroke="#000" stroke-width="0.2">**</text>
<text x="314.90" y="279.90" font-size="9.240000000000002" text-anchor="start" fill="#111" textLength="46.20" lengthAdjust="spacingAndGlyphs" font-weight="normal"  stroke="#111" stroke-width="0.2">CCL4/MIP-1β</text>
<text x="285.00" y="329.10" font-size="6.0" text-anchor="middle" fill="#111" textLength="15.30" lengthAdjust="spacingAndGlyphs" transform="rotate(-90 285.00 329.10)" font-weight="normal"  stroke="#111" stroke-width="0.2">pg/mL</text>
<text x="284.80" y="388.50" font-size="6.6" text-anchor="start" fill="#111" textLength="10.20" lengthAdjust="spacingAndGlyphs" font-weight="normal"  stroke="#111" stroke-width="0.2">LPS</text>
<text x="284.80" y="397.00" font-size="6.6" text-anchor="start" fill="#111" textLength="29.80" lengthAdjust="spacingAndGlyphs" font-weight="normal"  stroke="#111" stroke-width="0.2">TAE (μg/mL)</text>
<text x="322.10" y="387.90" font-size="4.6" text-anchor="middle" fill="#111" font-weight="bold"  stroke="#111" stroke-width="0.2">+</text>
<text x="339.10" y="387.90" font-size="4.6" text-anchor="middle" fill="#111" font-weight="bold"  stroke="#111" stroke-width="0.2">+</text>
<text x="356.80" y="387.90" font-size="4.6" text-anchor="middle" fill="#111" font-weight="bold"  stroke="#111" stroke-width="0.2">+</text>
<text x="375.70" y="387.90" font-size="4.6" text-anchor="middle" fill="#111" font-weight="bold"  stroke="#111" stroke-width="0.2">+</text>
<text x="397.00" y="387.90" font-size="4.6" text-anchor="middle" fill="#111" font-weight="bold"  stroke="#111" stroke-width="0.2">+</text>
<text x="322.10" y="395.80" font-size="4.6" text-anchor="middle" fill="#111" font-weight="bold"  stroke="#111" stroke-width="0.2">-</text>
<text x="338.90" y="397.00" font-size="6.4" text-anchor="middle" fill="#111" textLength="9.50" lengthAdjust="spacingAndGlyphs" font-weight="normal"  stroke="#111" stroke-width="0.2">15.6</text>
<text x="357.20" y="397.00" font-size="6.4" text-anchor="middle" fill="#111" textLength="9.50" lengthAdjust="spacingAndGlyphs" font-weight="normal"  stroke="#111" stroke-width="0.2">62.5</text>
<text x="376.30" y="397.00" font-size="6.4" text-anchor="middle" fill="#111" textLength="8.10" lengthAdjust="spacingAndGlyphs" font-weight="normal"  stroke="#111" stroke-width="0.2">250</text>
<text x="398.20" y="397.00" font-size="6.4" text-anchor="middle" fill="#111" textLength="8.10" lengthAdjust="spacingAndGlyphs" font-weight="normal"  stroke="#111" stroke-width="0.2">500</text>
<line x1="449.00" y1="281.00" x2="449.00" y2="378.30" stroke="#9a9a9a" stroke-width="0.8"/>
<line x1="449.00" y1="378.30" x2="541.70" y2="378.30" stroke="#9a9a9a" stroke-width="0.8"/>
<line x1="447.40" y1="378.30" x2="449.00" y2="378.30" stroke="#9a9a9a" stroke-width="0.7"/>
<text x="444.50" y="380.60" font-size="6.6" text-anchor="end" fill="#111" textLength="2.52" lengthAdjust="spacingAndGlyphs" font-weight="normal"  stroke="#111" stroke-width="0.2">0</text>
<line x1="447.40" y1="364.40" x2="449.00" y2="364.40" stroke="#9a9a9a" stroke-width="0.7"/>
<text x="444.50" y="366.70" font-size="6.6" text-anchor="end" fill="#111" textLength="12.60" lengthAdjust="spacingAndGlyphs" font-weight="normal"  stroke="#111" stroke-width="0.2">10000</text>
<line x1="447.40" y1="350.50" x2="449.00" y2="350.50" stroke="#9a9a9a" stroke-width="0.7"/>
<text x="444.50" y="352.80" font-size="6.6" text-anchor="end" fill="#111" textLength="12.60" lengthAdjust="spacingAndGlyphs" font-weight="normal"  stroke="#111" stroke-width="0.2">20000</text>
<line x1="447.40" y1="336.60" x2="449.00" y2="336.60" stroke="#9a9a9a" stroke-width="0.7"/>
<text x="444.50" y="338.90" font-size="6.6" text-anchor="end" fill="#111" textLength="12.60" lengthAdjust="spacingAndGlyphs" font-weight="normal"  stroke="#111" stroke-width="0.2">30000</text>
<line x1="447.40" y1="322.70" x2="449.00" y2="322.70" stroke="#9a9a9a" stroke-width="0.7"/>
<text x="444.50" y="325.00" font-size="6.6" text-anchor="end" fill="#111" textLength="12.60" lengthAdjust="spacingAndGlyphs" font-weight="normal"  stroke="#111" stroke-width="0.2">40000</text>
<line x1="447.40" y1="308.80" x2="449.00" y2="308.80" stroke="#9a9a9a" stroke-width="0.7"/>
<text x="444.50" y="311.10" font-size="6.6" text-anchor="end" fill="#111" textLength="12.60" lengthAdjust="spacingAndGlyphs" font-weight="normal"  stroke="#111" stroke-width="0.2">50000</text>
<line x1="447.40" y1="294.90" x2="449.00" y2="294.90" stroke="#9a9a9a" stroke-width="0.7"/>
<text x="444.50" y="297.20" font-size="6.6" text-anchor="end" fill="#111" textLength="12.60" lengthAdjust="spacingAndGlyphs" font-weight="normal"  stroke="#111" stroke-width="0.2">60000</text>
<line x1="447.40" y1="281.00" x2="449.00" y2="281.00" stroke="#9a9a9a" stroke-width="0.7"/>
<text x="444.50" y="283.30" font-size="6.6" text-anchor="end" fill="#111" textLength="12.60" lengthAdjust="spacingAndGlyphs" font-weight="normal"  stroke="#111" stroke-width="0.2">70000</text>
<line x1="449.00" y1="378.30" x2="449.00" y2="379.80" stroke="#9a9a9a" stroke-width="0.7"/>
<line x1="467.10" y1="378.30" x2="467.10" y2="379.80" stroke="#9a9a9a" stroke-width="0.7"/>
<line x1="485.75" y1="378.30" x2="485.75" y2="379.80" stroke="#9a9a9a" stroke-width="0.7"/>
<line x1="504.15" y1="378.30" x2="504.15" y2="379.80" stroke="#9a9a9a" stroke-width="0.7"/>
<line x1="522.85" y1="378.30" x2="522.85" y2="379.80" stroke="#9a9a9a" stroke-width="0.7"/>
<line x1="541.70" y1="378.30" x2="541.70" y2="379.80" stroke="#9a9a9a" stroke-width="0.7"/>
<rect x="451.05" y="331.20" width="13.30" height="47.10" fill="#000"/>
<line x1="476.50" y1="310.30" x2="476.50" y2="325.30" stroke="#999" stroke-width="1.1"/>
<line x1="475.60" y1="310.60" x2="477.40" y2="310.60" stroke="#999" stroke-width="0.8"/>
<rect x="470.30" y="322.75" width="12.40" height="55.55" fill="url(#hatch)" stroke="#333" stroke-width="0.9"/>
<line x1="476.50" y1="323.30" x2="476.50" y2="334.30" stroke="#999" stroke-width="1.0"/>
<rect x="488.80" y="316.85" width="12.40" height="61.45" fill="url(#hatch)" stroke="#333" stroke-width="0.9"/>
<line x1="513.30" y1="310.30" x2="513.30" y2="315.10" stroke="#999" stroke-width="1.1"/>
<line x1="512.40" y1="310.60" x2="514.20" y2="310.60" stroke="#999" stroke-width="0.8"/>
<rect x="507.10" y="312.55" width="12.40" height="65.75" fill="url(#hatch)" stroke="#333" stroke-width="0.9"/>
<line x1="532.40" y1="294.30" x2="532.40" y2="299.30" stroke="#999" stroke-width="1.1"/>
<line x1="531.50" y1="294.60" x2="533.30" y2="294.60" stroke="#999" stroke-width="0.8"/>
<rect x="526.20" y="296.75" width="12.40" height="81.55" fill="url(#hatch)" stroke="#333" stroke-width="0.9"/>
<text x="495.80" y="310.30" font-size="10" text-anchor="middle" fill="#000" textLength="7.16" lengthAdjust="spacingAndGlyphs" font-weight="bold"  stroke="#000" stroke-width="0.2">**</text>
<text x="513.60" y="305.70" font-size="10" text-anchor="middle" fill="#000" textLength="7.16" lengthAdjust="spacingAndGlyphs" font-weight="bold"  stroke="#000" stroke-width="0.2">**</text>
<text x="532.60" y="291.70" font-size="10" text-anchor="middle" fill="#000" textLength="7.16" lengthAdjust="spacingAndGlyphs" font-weight="bold"  stroke="#000" stroke-width="0.2">**</text>
<text x="452.90" y="277.60" font-size="9.450000000000001" text-anchor="start" fill="#111" textLength="52.40" lengthAdjust="spacingAndGlyphs" font-weight="normal"  stroke="#111" stroke-width="0.2">CCL5/RANTES</text>
<text x="423.30" y="327.30" font-size="6.0" text-anchor="middle" fill="#111" textLength="15.30" lengthAdjust="spacingAndGlyphs" transform="rotate(-90 423.30 327.30)" font-weight="normal"  stroke="#111" stroke-width="0.2">pg/mL</text>
<text x="424.00" y="387.80" font-size="6.6" text-anchor="start" fill="#111" textLength="10.20" lengthAdjust="spacingAndGlyphs" font-weight="normal"  stroke="#111" stroke-width="0.2">LPS</text>
<text x="424.00" y="395.50" font-size="6.6" text-anchor="start" fill="#111" textLength="29.80" lengthAdjust="spacingAndGlyphs" font-weight="normal"  stroke="#111" stroke-width="0.2">TAE (μg/mL)</text>
<text x="461.40" y="387.20" font-size="4.6" text-anchor="middle" fill="#111" font-weight="bold"  stroke="#111" stroke-width="0.2">+</text>
<text x="477.20" y="387.20" font-size="4.6" text-anchor="middle" fill="#111" font-weight="bold"  stroke="#111" stroke-width="0.2">+</text>
<text x="496.10" y="387.20" font-size="4.6" text-anchor="middle" fill="#111" font-weight="bold"  stroke="#111" stroke-width="0.2">+</text>
<text x="515.70" y="387.20" font-size="4.6" text-anchor="middle" fill="#111" font-weight="bold"  stroke="#111" stroke-width="0.2">+</text>
<text x="536.30" y="387.20" font-size="4.6" text-anchor="middle" fill="#111" font-weight="bold"  stroke="#111" stroke-width="0.2">+</text>
<text x="461.40" y="394.30" font-size="4.6" text-anchor="middle" fill="#111" font-weight="bold"  stroke="#111" stroke-width="0.2">-</text>
<text x="478.30" y="395.50" font-size="6.4" text-anchor="middle" fill="#111" textLength="9.50" lengthAdjust="spacingAndGlyphs" font-weight="normal"  stroke="#111" stroke-width="0.2">15.6</text>
<text x="496.20" y="395.50" font-size="6.4" text-anchor="middle" fill="#111" textLength="9.50" lengthAdjust="spacingAndGlyphs" font-weight="normal"  stroke="#111" stroke-width="0.2">62.5</text>
<text x="514.50" y="395.50" font-size="6.4" text-anchor="middle" fill="#111" textLength="8.10" lengthAdjust="spacingAndGlyphs" font-weight="normal"  stroke="#111" stroke-width="0.2">250</text>
<text x="537.00" y="395.50" font-size="6.4" text-anchor="middle" fill="#111" textLength="8.10" lengthAdjust="spacingAndGlyphs" font-weight="normal"  stroke="#111" stroke-width="0.2">500</text>
</svg>
</body></html>
